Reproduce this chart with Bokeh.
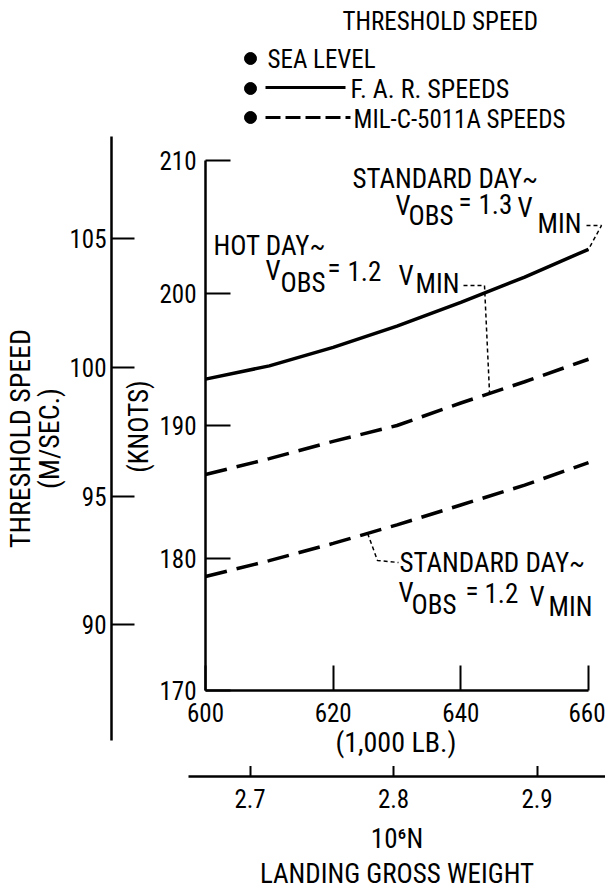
import math
from bokeh.plotting import figure
from bokeh.layouts import column, row
from bokeh.models import Range1d, FixedTicker, Label
from bokeh.embed import file_html
from bokeh.resources import INLINE
import numpy as np

# ---------------- data ----------------
weight_klb = [600, 610, 620, 630, 640, 650, 660]
far_std_13 = [193.5, 194.5, 195.9, 197.5, 199.3, 201.2, 203.3]   # F.A.R., standard day, Vobs=1.3 Vmin
mil_hot_12 = [186.3, 187.5, 188.8, 190.0, 191.7, 193.3, 195.0]   # MIL-C-5011A, hot day, Vobs=1.2 Vmin
mil_std_12 = [178.6, 179.8, 181.1, 182.5, 184.0, 185.5, 187.2]   # MIL-C-5011A, standard day, Vobs=1.2 Vmin

knots_ticks = [170, 180, 190, 200, 210]
ms_ticks = [90, 95, 100, 105]
klb_ticks = [600, 620, 640, 660]
mn_ticks = [2.7, 2.8, 2.9]

KT_TO_MS = 0.514444
KLB_TO_MN = 0.00444822

# ---------------- layout / style ----------------
FONT = "Roboto Condensed"
NUM = "25px"
TXT = "27px"
PAGE_W = 605
FL, FR, FT, FB = 205, 605, 160, 690          # main frame edges (page px)
X660 = 588                                   # page px of 660 (1,000 lb)
TOP_H = 136                                  # legend strip
MID_H = 630                                  # middle row
BOT_H = 892 - TOP_H - MID_H
MS_TOP, MS_BOT = TOP_H, 740                  # extent of the m/s scale line
NBSP = "\u00a0"


def DX(px):
    return 600 + (px - FL) * 60.0 / (X660 - FL)


def DY(py):
    return 170 + (FB - py) * 40.0 / (FB - FT)


def clean(fig):
    fig.xgrid.visible = False
    fig.ygrid.visible = False
    fig.outline_line_color = None
    fig.background_fill_color = "white"
    fig.border_fill_color = "white"


def style_axis(ax, tick_in, standoff):
    ax.axis_line_width = 2.5
    ax.axis_line_color = "black"
    ax.major_tick_line_width = 2
    ax.major_tick_line_color = "black"
    ax.major_tick_in = tick_in
    ax.major_tick_out = 0
    ax.minor_tick_in = 0
    ax.minor_tick_out = 0
    ax.minor_tick_line_color = None
    ax.major_label_standoff = standoff
    ax.major_label_text_font = FONT
    ax.major_label_text_font_size = NUM
    ax.major_label_text_color = "black"
    ax.axis_label_text_font = FONT
    ax.axis_label_text_font_size = TXT
    ax.axis_label_text_font_style = "normal"
    ax.axis_label_text_color = "black"


def add_label(fig, text, x, y, size=TXT, font=FONT, align="left", baseline="alphabetic", angle=0.0):
    fig.add_layout(Label(x=x, y=y, text=text, text_font=font, text_font_size=size, angle=angle,
                         text_align=align, text_baseline=baseline, text_color="black"))


def lift(size):
    # measured offset between the requested baseline and where the glyphs land
    return 0.37 * float(size.replace("px", ""))


COMMON = dict(output_backend="svg", toolbar_location=None, frame_align=False)

# ================= top strip: legend block =================
top = figure(width=PAGE_W, height=TOP_H, x_range=Range1d(0, PAGE_W), y_range=Range1d(TOP_H, 0),
             x_axis_location=None, y_axis_location=None,
             min_border_left=0, min_border_right=0, min_border_top=0, min_border_bottom=0, **COMMON)
clean(top)


def legend_text(text, px, py, size="25px"):
    add_label(top, text, px, py - lift(size), size=size)


legend_text("THRESHOLD SPEED", 342, 30)
top.scatter([250, 250, 250], [58, 88, 117], size=12, color="black")
legend_text("SEA LEVEL", 267, 68)
top.line([265, 345], [87, 87], line_width=3, line_color="black")
legend_text("F. A. R. SPEEDS", 350, 98, size="26px")
top.line([265, 350], [117, 117], line_width=3, line_color="black", line_dash="15 5")
legend_text("MIL-C-5011A SPEEDS", 353, 128)

# ================= middle left: m/s scale =================
LEFT_W = 155
MS_X = 107
left = figure(width=LEFT_W, height=MID_H, x_range=Range1d(MS_X, LEFT_W),
              y_range=Range1d(DY(MS_BOT) * KT_TO_MS, DY(MS_TOP) * KT_TO_MS),
              x_axis_location=None,
              min_border_left=MS_X, min_border_right=0, min_border_top=MS_TOP - TOP_H,
              min_border_bottom=TOP_H + MID_H - MS_BOT, **COMMON)
clean(left)
ms = left.yaxis[0]
ms.ticker = FixedTicker(ticks=ms_ticks)
style_axis(ms, 23, 5)
ms.axis_label = "THRESHOLD SPEED\n(M/SEC.)"
ms.axis_label_text_font_size = "28px"
ms.axis_label_text_line_height = 0.9
ms.axis_label_standoff = 0
add_label(left, "(KNOTS)", 137, DY(426) * KT_TO_MS, align="center", baseline="middle", angle=math.pi / 2)

# ================= middle right: main chart =================
MAIN_W = PAGE_W - LEFT_W
main = figure(width=MAIN_W, height=MID_H, x_range=Range1d(600, DX(FR)), y_range=Range1d(170, 210),
              min_border_left=FL - LEFT_W, min_border_right=0,
              min_border_top=FT - TOP_H, min_border_bottom=TOP_H + MID_H - FB, **COMMON)
clean(main)

ky = main.yaxis[0]
ky.ticker = FixedTicker(ticks=knots_ticks)
style_axis(ky, 25, 9)

kx = main.xaxis[0]
kx.ticker = FixedTicker(ticks=klb_ticks)
kx.bounds = (600, 660)
style_axis(kx, 25, 12)
kx.axis_label = "(1,000 LB.)" + NBSP * 3
kx.axis_label_text_font_size = "28px"
kx.axis_label_standoff = 1

main.line(weight_klb, far_std_13, line_width=3.5, line_color="black")
main.line(weight_klb, mil_hot_12, line_width=3.5, line_color="black", line_dash="22 10")
main.line(weight_klb, mil_std_12, line_width=3.5, line_color="black", line_dash="22 10")

# leader lines from the notes to the curves
w_hot = 644.5
main.line([DX(463), DX(484), w_hot], [DY(285), DY(285), float(np.interp(w_hot, weight_klb, mil_hot_12))],
          line_width=1.5, line_color="black", line_dash="4 3")
main.line([DX(586), DX(601), weight_klb[-1]], [DY(225), DY(225), far_std_13[-1]],
          line_width=1.5, line_color="black", line_dash="4 3")
w_std = 625.4
main.line([w_std, DX(377), DX(398)], [float(np.interp(w_std, weight_klb, mil_std_12)), DY(560), DY(562)],
          line_width=1.5, line_color="black", line_dash="4 3")


def note(text, px, py):
    add_label(main, text, DX(px), DY(py - lift(TXT)))


note("STANDARD DAY~", 352, 188)
note("V", 395, 215); note("OBS", 408, 225); note("=", 458, 211); note("1.3", 478, 213)
note("V", 517, 217); note("MIN", 537, 233)

note("HOT DAY~", 213, 255)
note("V", 265, 280); note("OBS", 280, 292); note("=", 327, 277); note("1.2", 347, 280)
note("V", 398, 285); note("MIN", 415, 293)

note("STANDARD DAY~", 399, 572)
note("V", 398, 602); note("OBS", 411, 614); note("=", 465, 600); note("1.2", 484, 602)
note("V", 529, 606); note("MIN", 548, 616)

# ================= bottom strip: newton scale =================
NL = 188
AX_Y = 787
bottom = figure(width=PAGE_W, height=BOT_H,
                x_range=Range1d(DX(NL) * KLB_TO_MN, DX(PAGE_W) * KLB_TO_MN), y_range=Range1d(0, 1),
                y_axis_location=None,
                min_border_left=NL, min_border_right=0, min_border_top=0,
                min_border_bottom=TOP_H + MID_H + BOT_H - AX_Y, **COMMON)
clean(bottom)
mn = bottom.xaxis[0]
mn.ticker = FixedTicker(ticks=mn_ticks)
style_axis(mn, 21, 12)
mn.axis_label = "10\u2076N\nLANDING GROSS WEIGHT"
mn.axis_label_text_line_height = 1.1
mn.axis_label_standoff = 12

layout = column(top, row(left, main), bottom)
open("out.html", "w").write(file_html(layout, INLINE))
